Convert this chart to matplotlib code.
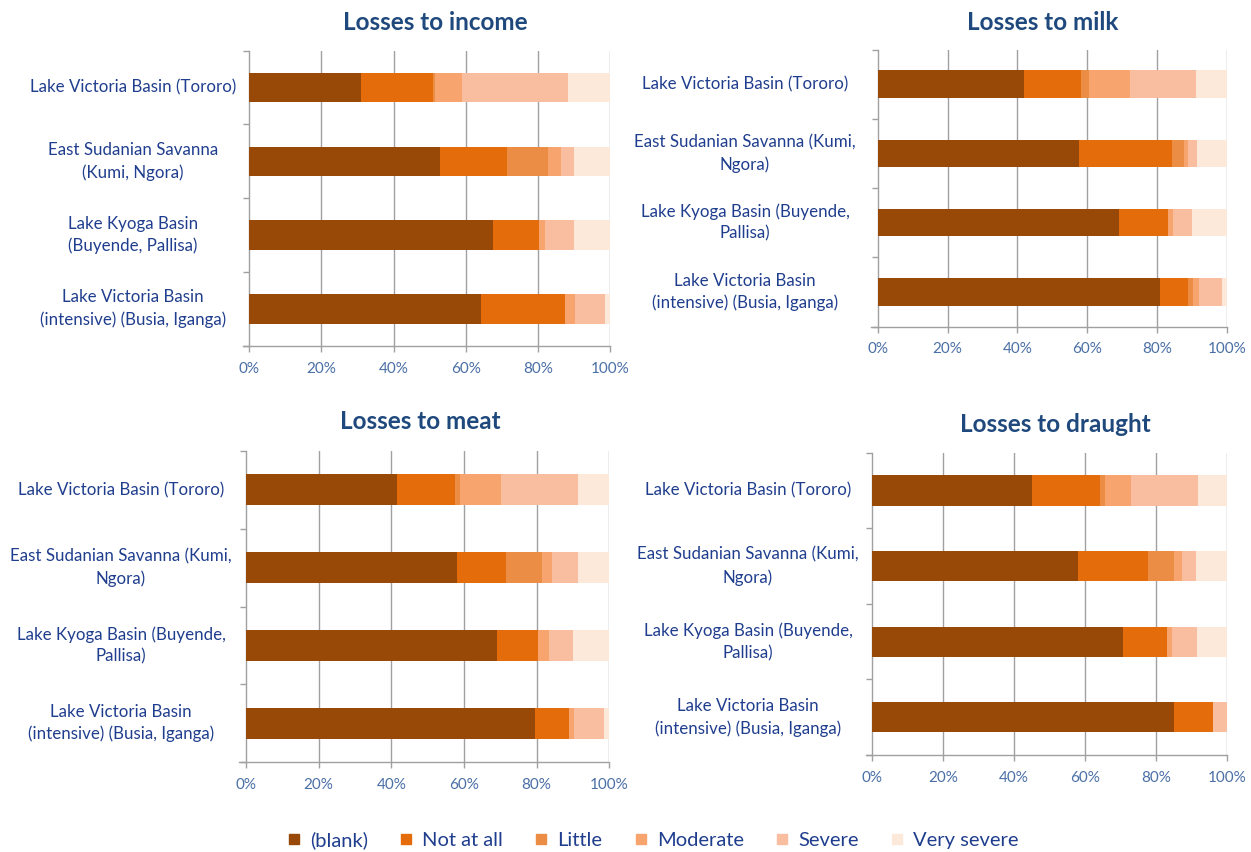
import matplotlib
matplotlib.use("Agg")
import matplotlib.pyplot as plt
from matplotlib.lines import Line2D
from matplotlib.transforms import blended_transform_factory

plt.rcParams['font.family'] = ['Lato', 'DejaVu Sans']

W, H = 1251, 852

levels = ["(blank)", "Not at all", "Little", "Moderate", "Severe", "Very severe"]
colors = ["#984807", "#E46C0A", "#EB8D45", "#F7A46E", "#F9BE9F", "#FDE9D9"]

cats_income = ["Lake Victoria Basin (Tororo)",
               "East Sudanian Savanna\n(Kumi, Ngora)",
               "Lake Kyoga Basin\n(Buyende, Pallisa)",
               "Lake Victoria Basin\n(intensive) (Busia, Iganga)"]
cats_other = ["Lake Victoria Basin (Tororo)",
              "East Sudanian Savanna (Kumi,\nNgora)",
              "Lake Kyoga Basin (Buyende,\nPallisa)",
              "Lake Victoria Basin\n(intensive) (Busia, Iganga)"]

# rows = regions (top to bottom), columns = levels (%)
income = [[31.1, 19.7, 0.7, 7.4, 29.4, 11.7],
          [52.9, 18.5, 11.5, 3.5, 3.6, 10.0],
          [67.6, 12.8, 0.0, 1.5, 8.1, 10.0],
          [64.3, 23.2, 0.0, 2.9, 8.2, 1.4]]
milk = [[42.0, 16.3, 2.2, 11.7, 18.9, 8.9],
        [57.8, 26.4, 3.6, 1.1, 2.6, 8.5],
        [69.0, 14.1, 0.0, 1.4, 5.5, 10.0],
        [80.8, 8.1, 1.5, 1.6, 6.6, 1.4]]
meat = [[41.7, 15.7, 1.4, 11.5, 21.0, 8.7],
        [58.1, 13.5, 10.0, 2.5, 7.4, 8.5],
        [69.2, 11.3, 0.0, 2.9, 6.7, 9.9],
        [79.5, 9.5, 0.0, 1.4, 8.2, 1.4]]
draught = [[45.0, 19.3, 1.4, 7.3, 19.0, 8.0],
           [58.0, 19.8, 7.3, 2.4, 3.7, 8.8],
           [70.6, 12.6, 0.0, 1.4, 7.0, 8.4],
           [85.1, 10.9, 0.0, 0.0, 4.0, 0.0]]

xticks = [0, 20, 40, 60, 80, 100]
xticklabels = ["0%", "20%", "40%", "60%", "80%", "100%"]

panels = [
    ("Losses to income", income, cats_income, (249.3, 610.0, 50.7, 345.7), (435, 22), 133),
    ("Losses to milk", milk, cats_other, (877.7, 1226.7, 49.5, 326.5), (1043, 22), 745),
    ("Losses to meat", meat, cats_other, (246.0, 609.3, 451.0, 762.0), (420, 422), 121),
    ("Losses to draught", draught, cats_other, (872.3, 1226.7, 452.8, 755.0), (1055, 424), 748),
]

GRID = "#A0A0A0"
TITLE_C = "#1F497D"
CAT_C = "#203E8E"
TICK_C = "#4A6FA5"

fig = plt.figure(figsize=(W / 100, H / 100), dpi=100)

for title, data, cats, (l, r, t, b), (tx, ty), lab_cx in panels:
    ax = fig.add_axes([l / W, 1 - b / H, (r - l) / W, (b - t) / H])
    n = len(cats)
    ys = [i + 0.5 for i in range(n)]
    left = [0.0] * n
    for j, (lev, col) in enumerate(zip(levels, colors)):
        vals = [row[j] for row in data]
        ax.barh(ys, vals, left=left, height=0.4, color=col, edgecolor='none',
                label=lev, zorder=3)
        left = [a + v for a, v in zip(left, vals)]
    ax.set_xlim(0, 100)
    ax.set_ylim(n, 0)
    ax.set_xticks(xticks)
    ax.set_xticklabels(xticklabels)
    ax.set_yticks(range(n + 1))
    ax.set_yticklabels([])
    for x in xticks[1:]:
        ax.axvline(x, color=GRID, lw=1.0, zorder=1)
    for s in ["top", "right"]:
        ax.spines[s].set_visible(False)
    for s in ["left", "bottom"]:
        ax.spines[s].set_color(GRID)
        ax.spines[s].set_linewidth(1.0)
    ax.spines["bottom"].set_bounds(-1.8, 100)
    ax.tick_params(axis='x', direction='out', length=4.5, width=1.0, color=GRID,
                   labelcolor=TICK_C, labelsize=11, pad=7)
    ax.tick_params(axis='y', direction='out', length=4.5, width=1.0, color=GRID)
    trans = blended_transform_factory(fig.transFigure, ax.transData)
    for y, c in zip(ys, cats):
        ax.text(lab_cx / W, y, c, transform=trans, ha='center', va='center',
                multialignment='center', fontsize=12.2, color=CAT_C, linespacing=1.45)
    fig.text(tx / W, 1 - ty / H, title, ha='center', va='center', fontsize=17.5,
             fontweight='bold', color=TITLE_C)

handles = [Line2D([], [], marker='s', linestyle='none', markersize=7,
                  markerfacecolor=c, markeredgecolor=c) for c in colors]
leg = fig.legend(handles, levels, loc='center', bbox_to_anchor=(651 / W, 1 - 840 / H),
                 ncol=6, frameon=False, fontsize=14.5, handletextpad=0.3,
                 columnspacing=1.4, handlelength=1.0)
for txt in leg.get_texts():
    txt.set_color(CAT_C)

fig.savefig("out.png", dpi=100)
